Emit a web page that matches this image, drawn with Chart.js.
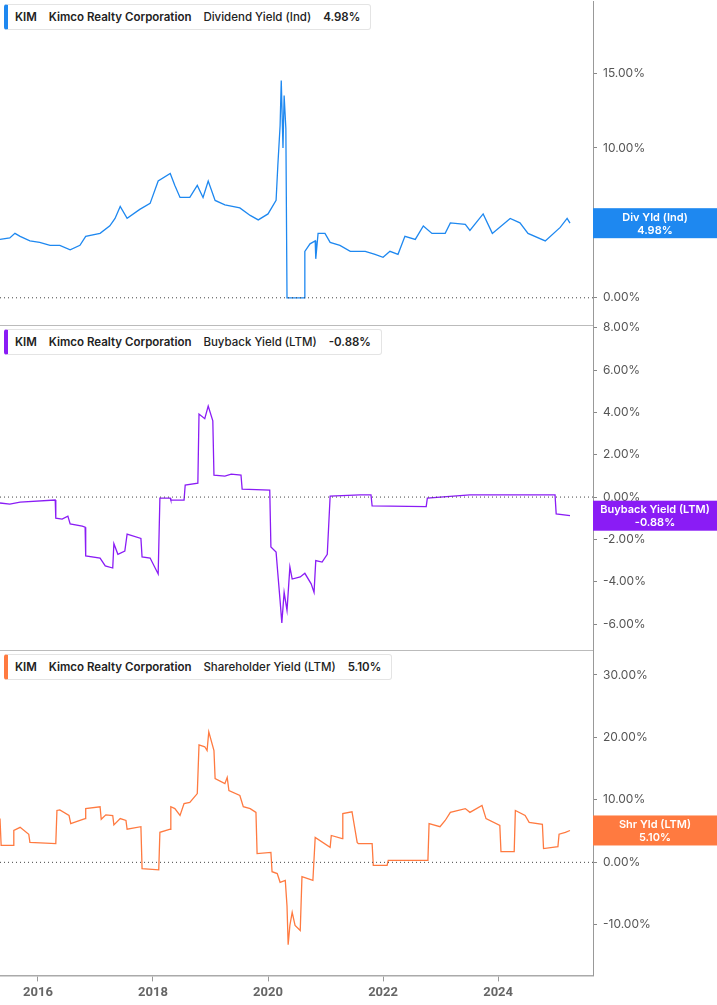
<!DOCTYPE html>
<html>
<head>
<meta charset="utf-8">
<script src="https://cdn.jsdelivr.net/npm/chart.js@4"></script>
<style>
  body { margin: 0; background: #fff; font-family: Inter, Roboto, sans-serif; }
  .panel { position: absolute; left: 0; width: 717px; }
  .legend {
    position: absolute; left: 4px; height: 24px; line-height: 24px;
    border: 1px solid #e4e4e4; border-radius: 3px; padding: 0 10px 0 7px;
    font-size: 11.5px; font-weight: 600; color: #222; background: #fff; white-space: nowrap;
  }
  .legend span { margin-right: 9px; }
</style>
</head>
<body>
<div class="panel" style="top:-12px;height:351px"><canvas id="divChart"></canvas></div>
<div class="panel" style="top:313px;height:351px"><canvas id="buyChart"></canvas></div>
<div class="panel" style="top:638px;height:367px"><canvas id="shrChart"></canvas></div>
<div style="position:absolute;left:0;top:325px;width:593px;border-top:1px solid #bbb"></div>
<div style="position:absolute;left:0;top:650px;width:593px;border-top:1px solid #bbb"></div>
<div class="legend" style="top:4px;border-left:4px solid #1e88f0"><span>KIM</span> <span>Kimco Realty Corporation</span> <span style="font-weight:500">Dividend Yield (Ind)</span> <span style="margin:0">4.98%</span></div>
<div class="legend" style="top:329px;border-left:4px solid #8a1cf5"><span>KIM</span> <span>Kimco Realty Corporation</span> <span style="font-weight:500">Buyback Yield (LTM)</span> <span style="margin:0">-0.88%</span></div>
<div class="legend" style="top:654px;border-left:4px solid #ff7a40"><span>KIM</span> <span>Kimco Realty Corporation</span> <span style="font-weight:500">Shareholder Yield (LTM)</span> <span style="margin:0">5.10%</span></div>
<script>
const divYears = [2015.34,2015.51,2015.60,2015.69,2015.86,2016.03,2016.21,2016.38,2016.56,2016.73,2016.83,2017.08,2017.25,2017.34,2017.43,2017.55,2017.77,2017.95,2018.09,2018.30,2018.38,2018.47,2018.64,2018.77,2018.87,2018.96,2019.08,2019.25,2019.51,2019.69,2019.83,2020.00,2020.14,2020.17,2020.21,2020.23,2020.26,2020.28,2020.31,2020.33,2020.63,2020.64,2020.73,2020.82,2020.83,2020.87,2020.99,2021.08,2021.25,2021.43,2021.69,2021.86,2022.00,2022.12,2022.26,2022.38,2022.56,2022.70,2022.85,2023.08,2023.17,2023.43,2023.51,2023.74,2023.90,2024.21,2024.38,2024.52,2024.82,2025.08,2025.20,2025.25];
const divValues = [3.9,4.0,4.3,4.1,3.8,3.7,3.5,3.5,3.2,3.5,4.1,4.3,4.8,5.3,6.1,5.3,5.9,6.3,7.8,8.3,7.5,6.7,6.7,7.5,6.7,7.8,6.5,6.2,6.0,5.5,5.2,5.6,6.5,8.8,11.5,14.5,10.0,13.5,11.3,0,0,3.1,3.6,3.8,2.6,4.3,4.3,3.7,3.5,3.1,3.1,2.9,2.7,3.1,2.9,4.1,3.9,4.8,4.3,4.3,5.0,4.9,4.5,5.6,4.3,5.3,5.0,4.3,3.8,4.7,5.3,4.98];

const buyYears = [2015.34,2015.51,2015.69,2016.30,2016.31,2016.42,2016.52,2016.56,2016.77,2016.82,2016.83,2017.08,2017.17,2017.30,2017.32,2017.39,2017.51,2017.55,2017.79,2017.81,2017.95,2018.09,2018.12,2018.30,2018.31,2018.54,2018.56,2018.78,2018.80,2018.90,2018.96,2019.04,2019.06,2019.25,2019.36,2019.53,2019.55,2020.03,2020.05,2020.14,2020.17,2020.21,2020.24,2020.28,2020.33,2020.38,2020.42,2020.56,2020.64,2020.75,2020.80,2020.83,2020.94,2021.03,2021.08,2021.60,2021.79,2021.81,2022.75,2022.77,2023.51,2024.99,2025.01,2025.25];
const buyValues = [-0.28,-0.33,-0.24,-0.14,-1.0,-1.04,-0.9,-1.27,-1.37,-1.42,-2.78,-2.88,-3.25,-3.35,-2.2,-2.7,-2.55,-1.75,-1.95,-2.83,-2.88,-3.63,-0.05,-0.05,-0.14,-0.14,0.57,0.66,3.92,3.7,4.3,3.6,1.04,0.99,1.08,1.04,0.38,0.33,-2.36,-2.6,-3.6,-4.9,-5.94,-4.5,-5.35,-3.3,-3.87,-3.77,-3.6,-4.1,-4.5,-3.0,-3.07,-2.7,0.05,0.1,0.1,-0.42,-0.45,-0.05,0.1,0.1,-0.8,-0.88];

const shrYears = [2015.34,2015.36,2015.57,2015.58,2015.69,2015.84,2015.86,2016.31,2016.33,2016.38,2016.54,2016.57,2016.73,2016.82,2016.83,2017.08,2017.10,2017.18,2017.30,2017.32,2017.43,2017.53,2017.55,2017.79,2017.81,2018.10,2018.12,2018.30,2018.31,2018.38,2018.47,2018.54,2018.64,2018.77,2018.80,2018.90,2018.94,2018.97,2019.06,2019.08,2019.25,2019.29,2019.32,2019.51,2019.57,2019.69,2019.79,2019.81,2020.05,2020.07,2020.16,2020.21,2020.30,2020.33,2020.35,2020.38,2020.42,2020.47,2020.56,2020.59,2020.78,2020.82,2021.08,2021.10,2021.29,2021.30,2021.46,2021.55,2021.57,2021.81,2021.83,2022.07,2022.09,2022.78,2022.80,2022.99,2023.08,2023.17,2023.43,2023.51,2023.72,2023.79,2024.03,2024.05,2024.28,2024.30,2024.47,2024.54,2024.77,2024.79,2025.04,2025.06,2025.17,2025.25];
const shrValues = [7.0,2.7,2.7,5.1,5.6,4.5,3.2,3.0,8.3,8.4,7.5,6.2,6.7,7.0,8.6,8.9,6.9,7.6,7.5,6.0,7.0,6.7,5.3,5.7,-1.0,-1.2,4.8,5.3,8.9,8.6,7.5,9.4,9.6,11.0,18.8,18.5,17.9,20.9,17.9,13.4,12.6,13.6,11.5,10.7,8.9,8.6,8.0,1.4,1.6,-1.5,-1.8,-3.2,-2.9,-7.0,-13.2,-10.1,-8.0,-10.1,-10.9,-2.3,-2.9,4.0,2.4,4.3,3.8,7.8,8.1,3.2,3.0,3.0,-0.5,-0.5,0.3,0.3,6.2,5.7,6.7,8.0,8.6,8.0,9.1,7.0,5.9,1.7,1.7,8.3,7.5,6.4,6.1,2.2,2.5,4.5,4.8,5.1];

const yearTicks = [2016, 2018, 2020, 2022, 2024];
const divTicks = [0, 5, 10, 15];
const buyTicks = [-6, -4, -2, 0, 2, 4, 6, 8];
const shrTicks = [-10, 0, 10, 20, 30];

const zeroAndLabel = {
  id: "zeroAndLabel",
  afterDatasetsDraw(chart, args, opts) {
    const { ctx, chartArea: a, scales: { y } } = chart;
    const y0 = y.getPixelForValue(0);
    ctx.save();
    ctx.strokeStyle = "#444";
    ctx.lineWidth = 1;
    ctx.setLineDash([1, 3]);
    ctx.beginPath(); ctx.moveTo(a.left, y0); ctx.lineTo(a.right, y0); ctx.stroke();
    ctx.setLineDash([]);
    const data = chart.data.datasets[0].data;
    const yl = y.getPixelForValue(data[data.length - 1].y);
    ctx.fillStyle = opts.color;
    ctx.fillRect(a.right, yl - 15, chart.width - a.right, 30);
    ctx.fillStyle = "#fff";
    ctx.font = "600 11px Inter, Roboto, sans-serif";
    ctx.textAlign = "center";
    ctx.textBaseline = "middle";
    const cx = (a.right + chart.width) / 2;
    ctx.fillText(opts.name, cx, yl - 6);
    ctx.fillText(opts.value, cx, yl + 7);
    ctx.restore();
  }
};

function makeChart(id, years, values, color, yMin, yMax, ticks, name, value, showX) {
  return new Chart(document.getElementById(id), {
    type: "line",
    data: {
      datasets: [{
        data: years.map((t, i) => ({ x: t, y: values[i] })),
        borderColor: color,
        borderWidth: 1.3,
        pointRadius: 0,
        tension: 0
      }]
    },
    options: {
      responsive: true,
      maintainAspectRatio: false,
      animation: false,
      layout: { padding: 0 },
      plugins: { legend: { display: false }, tooltip: { enabled: false }, zeroAndLabel: { color, name, value } },
      scales: {
        x: {
          type: "linear", min: 2015.34, max: 2025.65,
          display: showX,
          afterBuildTicks: ax => { ax.ticks = yearTicks.map(v => ({ value: v })); },
          grid: { display: true, drawOnChartArea: false, color: "#999", tickLength: 6 },
          border: { color: "#aaa", width: 1.5 },
          ticks: { color: "#666", font: { family: "Roboto", size: 13, weight: "bold" }, padding: 4, callback: v => v }
        },
        y: {
          position: "right", min: yMin, max: yMax,
          afterBuildTicks: ax => { ax.ticks = ticks.map(v => ({ value: v })); },
          afterFit: ax => { ax.width = 124; },
          grid: { drawOnChartArea: false, color: "#888", tickLength: 4 },
          border: { color: "#999", width: 1 },
          ticks: { color: "#555", font: { family: "Inter", size: 12 }, padding: 6, callback: v => v.toFixed(2) + "%" }
        }
      }
    },
    plugins: [zeroAndLabel]
  });
}

makeChart("divChart", divYears, divValues, "#1e88f0", -1.87, 19.8, divTicks, "Div Yld (Ind)", "4.98%", false);
makeChart("buyChart", buyYears, buyValues, "#8a1cf5", -7.26, 8.07, buyTicks, "Buyback Yield (LTM)", "-0.88%", false);
makeChart("shrChart", shrYears, shrValues, "#ff7a40", -18.1, 33.8, shrTicks, "Shr Yld (LTM)", "5.10%", true);
</script>
</body>
</html>
